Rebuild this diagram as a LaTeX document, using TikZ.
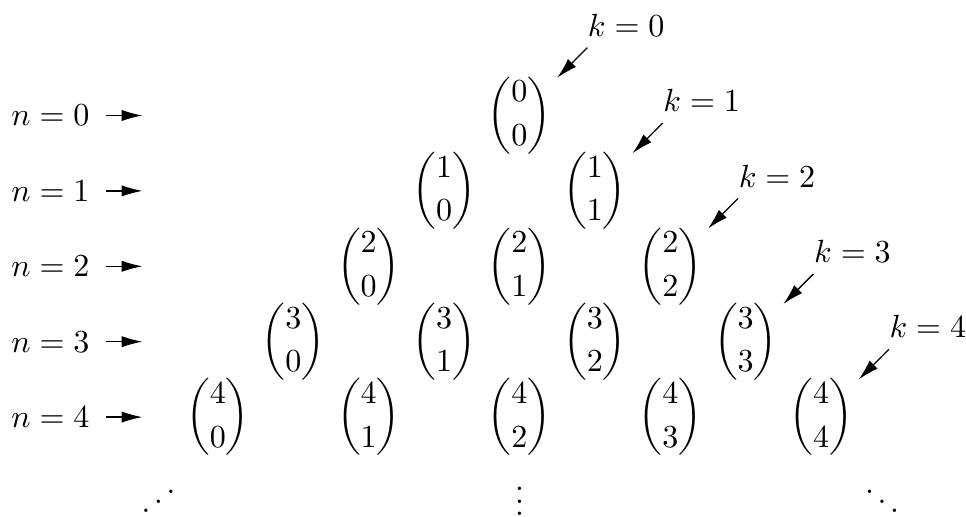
\documentclass[tikz,border=0pt]{standalone}
\usepackage{amsmath}
\usepackage{amssymb}
\usetikzlibrary{arrows.meta,calc}

\begin{document}
\begin{tikzpicture}[x=23.5pt,y=23.5pt,>={Latex[length=6.5pt,width=3.5pt]}]
                                \useasboundingbox(-6.89,1.532)rectangle(5.922,-5.312);
                                \foreach \n in {0,...,4}{
                                  \foreach \k in {0,...,\n}{
                                    \node(b\n\k)at({2*\k-\n},-\n){$\dbinom{\n}{\k}$};
                                  }
                                  \node(n\n)at(-6.22,-\n){$n=\n$};
                                  \coordinate(a\n)at(-5,-\n);
                                  \draw[->,shorten <=1.5pt](n\n)--(a\n);
                                  \coordinate(s\n)at($(b\n\n)+(0.9,0.9)$);
                                  \coordinate(t\n)at($(b\n\n)+(0.5,0.5)$);
                                  \node[anchor=south west,inner xsep=0pt](k\n)at(s\n){$k=\n$};
                                  \draw[->](k\n.south west)--(t\n);
                                }
                                \node[anchor=base,xscale=-1](dl)at(-4.79,-5.31){$\ddots$};
                                \node[anchor=base](dm)at(0,-5.31){$\vdots$};
                                \node[anchor=base](dr)at(4.81,-5.31){$\ddots$};
                            \end{tikzpicture}
\end{document}
